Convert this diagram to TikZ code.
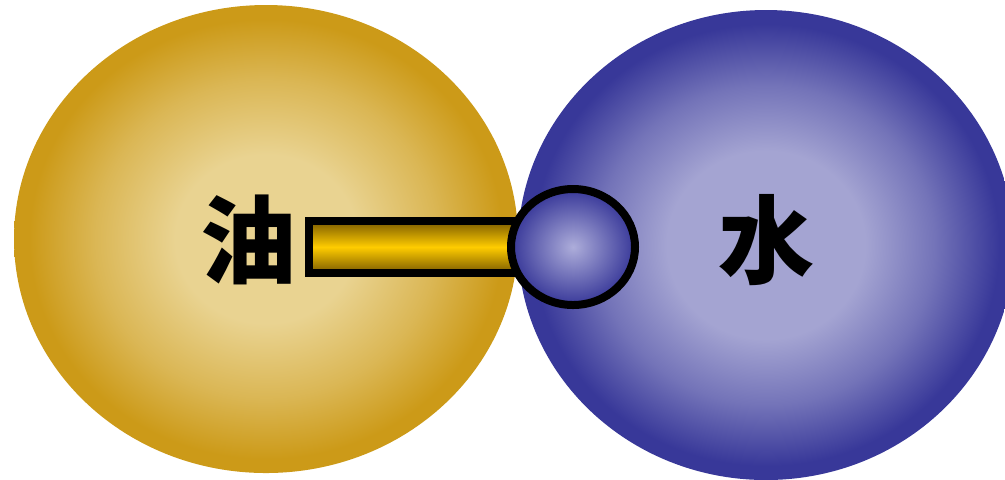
\documentclass[tikz,border=0pt]{standalone}
\usepackage{fontspec}
\newfontfamily\cjk{Noto Sans CJK SC}
\usetikzlibrary{shapes.geometric}
\definecolor{aceite}{HTML}{CC9A18}
\definecolor{aceiteclaro}{HTML}{E9D391}
\definecolor{agua}{HTML}{383899}
\definecolor{aguaclaro}{HTML}{A4A4D2}
\definecolor{cuentaclaro}{HTML}{ADADDA}
\definecolor{barra}{HTML}{FFCC00}
\definecolor{barraosc}{HTML}{7A5A00}
\colorlet{aceitemed}{aceiteclaro!50!aceite}
\colorlet{aguamed}{aguaclaro!55!agua}
% sombreados de las fases
\pgfdeclareradialshading{faseaceite}{\pgfpoint{0bp}{0bp}}{color(0bp)=(aceiteclaro); color(9bp)=(aceiteclaro); color(17bp)=(aceitemed); color(23.5bp)=(aceite); color(50bp)=(aceite)}
\pgfdeclareradialshading{faseagua}{\pgfpoint{0bp}{0bp}}{color(0bp)=(aguaclaro); color(10bp)=(aguaclaro); color(17bp)=(aguamed); color(23.5bp)=(agua); color(50bp)=(agua)}

\begin{document}
\begin{tikzpicture}[x=0.5pt,y=-0.5pt,
  gota/.style={ellipse,inner sep=0pt},
  letra/.style={font=\cjk\bfseries\fontsize{48pt}{48pt}\selectfont,inner sep=0pt}]
  \useasboundingbox (0,0) rectangle (1005,479);
  \clip (0,0) rectangle (1005,479);
  % fases
  \node[gota,minimum width=252pt,minimum height=234pt,shading=faseaceite] (aceite) at (266,239) {};
  \node[gota,minimum width=248pt,minimum height=235pt,shading=faseagua] (agua) at (766,245) {};
  % cola hidrofoba
  \node[draw,line width=4pt,inner sep=0pt,minimum width=115.5pt,minimum height=26pt,
    top color=barraosc,bottom color=barraosc,middle color=barra] (cola) at (424.5,247) {};
  % cabeza hidrofila
  \node[gota,draw,line width=4pt,minimum width=62pt,minimum height=58pt,inner color=cuentaclaro,outer color=agua] (cabeza) at (573,247) {};
  \node[letra] (txtaceite) at (248,240) {油};
  \node[letra] (txtagua) at (766,240) {水};
\end{tikzpicture}
\end{document}
